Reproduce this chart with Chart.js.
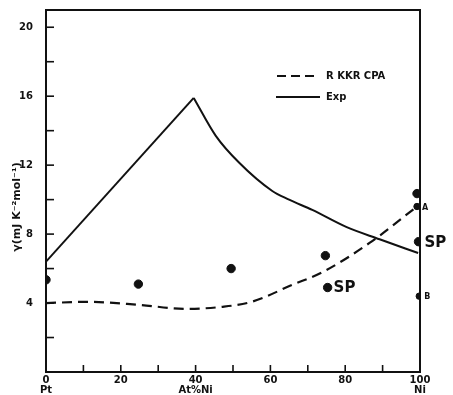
<!DOCTYPE html>
<html>
<head>
<meta charset="utf-8">
<script src="https://cdn.jsdelivr.net/npm/chart.js@4.4.1/dist/chart.umd.min.js"></script>
<style>
    html, body { margin: 0; padding: 0; background: #fff; }
    #wrap { width: 453px; height: 395px; }
</style>
</head>
<body>
<div id="wrap"><canvas id="gammaChart"></canvas></div>
<script>
// At% Ni vs gamma (mJ K^-2 mol^-1)
// Exp curve: straight rise to the peak, then a smooth fall
const expRiseX = [0, 39.5];
const expRiseY = [6.4, 15.9];
const expFallX = [39.5, 45.4, 51.6, 60.5, 65, 71.2, 80.4, 89.2, 99.5];
const expFallY = [15.9, 13.7, 12.15, 10.5, 10.0, 9.4, 8.4, 7.7, 6.9];

const cpaX = [0, 11.3, 24.7, 37.4, 47, 55, 65.9, 74, 86.6, 99.2];
const cpaY = [4.0, 4.07, 3.9, 3.66, 3.78, 4.07, 5.06, 5.8, 7.5, 9.6];

const dotX = [0, 24.7, 49.5, 74.7, 75.3, 99.2, 99.6];
const dotY = [5.35, 5.1, 6.0, 6.75, 4.9, 10.35, 7.56];

// small marked points A and B on the Ni axis
const markX = [99.2, 99.8];
const markY = [9.6, 4.4];
const markLabels = ['A', 'B'];

// points carrying an "SP" tag
const spX = [75.3, 99.6];
const spY = [4.9, 7.56];

const legendNames = ['R KKR CPA', 'Exp'];
const yTitle = '\u03b3(mJ K\u207b\u00b2mol\u207b\u00b9)';

const toPts = (xs, ys) => xs.map((x, i) => ({ x: x, y: ys[i] }));

document.addEventListener('DOMContentLoaded', () => {
    const canvas = document.getElementById('gammaChart');
    const ctx = canvas.getContext('2d');
    const ink = '#111';
    const boldFont = (s) => `bold ${s}px "DejaVu Sans", sans-serif`;

    // frame, inward ticks, legend, tags, y title
    const decor = {
        id: 'decor',
        afterDraw(chart) {
            const c = chart.ctx;
            const a = chart.chartArea;
            const xs = chart.scales.x;
            const ys = chart.scales.y;
            c.save();
            c.strokeStyle = ink;
            c.fillStyle = ink;
            c.lineWidth = 2;
            c.strokeRect(a.left, a.top, a.right - a.left, a.bottom - a.top);

            c.lineWidth = 1.6;
            ys.ticks.forEach(t => {
                if (t.value <= 0) return;
                const py = ys.getPixelForValue(t.value);
                c.beginPath();
                c.moveTo(a.left, py);
                c.lineTo(a.left + 8, py);
                c.stroke();
            });
            xs.ticks.forEach(t => {
                if (t.value <= 0 || t.value >= 100) return;
                const px = xs.getPixelForValue(t.value);
                c.beginPath();
                c.moveTo(px, a.bottom);
                c.lineTo(px, a.bottom - 7);
                c.stroke();
            });

            // legend
            c.lineWidth = 2;
            c.setLineDash([9, 5]);
            c.beginPath();
            c.moveTo(277, 76);
            c.lineTo(319, 76);
            c.stroke();
            c.setLineDash([]);
            c.beginPath();
            c.moveTo(276, 97);
            c.lineTo(320, 97);
            c.stroke();
            c.font = boldFont(10);
            c.textBaseline = 'middle';
            c.textAlign = 'left';
            c.fillText(legendNames[0], 326, 76);
            c.fillText(legendNames[1], 326, 97);

            // tags
            c.font = boldFont(15);
            spX.forEach((x, i) => {
                c.fillText('SP', xs.getPixelForValue(x) + 6, ys.getPixelForValue(spY[i]) + 1);
            });
            c.font = boldFont(8);
            markX.forEach((x, i) => {
                c.fillText(markLabels[i], xs.getPixelForValue(x) + 5, ys.getPixelForValue(markY[i]) + 1);
            });

            // y axis title
            c.font = boldFont(11);
            c.translate(17, 207);
            c.rotate(-Math.PI / 2);
            c.textAlign = 'center';
            c.fillText(yTitle, 0, 0);
            c.restore();
        }
    };

    const expLine = {
        showLine: true,
        borderColor: ink,
        borderWidth: 2,
        pointRadius: 0
    };

    new Chart(ctx, {
        type: 'scatter',
        data: {
            datasets: [
                Object.assign({ label: legendNames[1], data: toPts(expRiseX, expRiseY), tension: 0 }, expLine),
                Object.assign({ label: legendNames[1], data: toPts(expFallX, expFallY), cubicInterpolationMode: 'monotone' }, expLine),
                {
                    label: legendNames[0],
                    data: toPts(cpaX, cpaY),
                    showLine: true,
                    borderColor: ink,
                    borderWidth: 2.2,
                    borderDash: [10, 6],
                    pointRadius: 0,
                    cubicInterpolationMode: 'monotone'
                },
                {
                    label: 'points',
                    data: toPts(dotX, dotY),
                    backgroundColor: ink,
                    borderColor: ink,
                    pointRadius: 4.2
                },
                {
                    label: 'A/B',
                    data: toPts(markX, markY),
                    backgroundColor: ink,
                    borderColor: ink,
                    pointRadius: 3.2
                }
            ]
        },
        options: {
            responsive: true,
            maintainAspectRatio: false,
            animation: false,
            layout: { padding: { left: 12, right: 33, top: 10, bottom: 0 } },
            plugins: {
                legend: { display: false },
                tooltip: { enabled: false }
            },
            scales: {
                x: {
                    type: 'linear',
                    min: 0,
                    max: 100,
                    grid: { display: false, drawTicks: false },
                    border: { display: false },
                    afterFit: (s) => { s.height = 23; s.paddingLeft = 0; s.paddingRight = 0; },
                    ticks: {
                        stepSize: 10,
                        padding: 3,
                        color: ink,
                        font: { family: '"DejaVu Sans", sans-serif', size: 10, weight: 'bold', lineHeight: 1 },
                        maxRotation: 0,
                        autoSkip: false,
                        callback: (v) => {
                            if (v === 0) return ['0', 'Pt'];
                            if (v === 40) return ['40', 'At%Ni'];
                            if (v === 100) return ['100', 'Ni'];
                            return v % 20 === 0 ? String(v) : '';
                        }
                    }
                },
                y: {
                    type: 'linear',
                    min: 0,
                    max: 21,
                    grid: { display: false, drawTicks: false },
                    border: { display: false },
                    afterFit: (s) => { s.width = 34; s.paddingTop = 0; s.paddingBottom = 0; },
                    ticks: {
                        stepSize: 2,
                        includeBounds: false,
                        padding: 13,
                        color: ink,
                        font: { family: '"DejaVu Sans", sans-serif', size: 10, weight: 'bold' },
                        callback: (v) => (v > 0 && v % 4 === 0 ? String(v) : '')
                    }
                }
            }
        },
        plugins: [decor]
    });
});
</script>
</body>
</html>
